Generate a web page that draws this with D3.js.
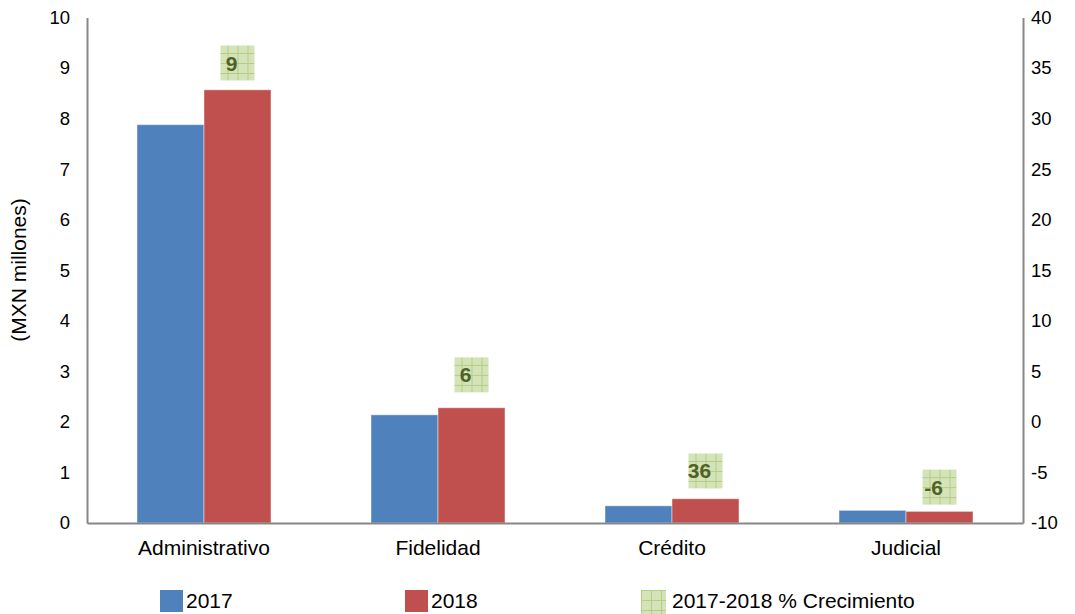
<!DOCTYPE html>
<html><head><meta charset="utf-8">
<script src="https://cdn.jsdelivr.net/npm/d3@7"></script>
<style>body{margin:0;background:#fff}svg{display:block;font-family:"Liberation Sans",Arial,sans-serif}</style>
</head><body>
<svg id="c" width="1075" height="614"></svg>
<script>
const categories = ["Administrativo","Fidelidad","Crédito","Judicial"];
const series2017 = [7.88, 2.14, 0.34, 0.25];
const series2018 = [8.57, 2.28, 0.48, 0.23];
const growth = [9, 6, 36, -6];
const growthPos = [9.1, 2.93, 1.03, 0.71];
const leftTicks = [0,1,2,3,4,5,6,7,8,9,10];
const rightTicks = [-10,-5,0,5,10,15,20,25,30,35,40];
const legendLabels = ["2017","2018","2017-2018 % Crecimiento"];

const svg = d3.select("#c");
const L=87, R=1023, T=17.5, B=523;
const x = d3.scaleBand().domain(categories).range([L,R]).padding(0);
const y = d3.scaleLinear().domain([0,10]).range([B,T]);
const y2 = d3.scaleLinear().domain([-10,40]).range([B,T]);
const barW = 67;
const sub = d3.scaleBand().domain(["2017","2018"]).range([0,barW*2]);

const defs = svg.append("defs");
const pat = defs.append("pattern").attr("id","grid").attr("patternUnits","userSpaceOnUse")
  .attr("width",10).attr("height",10);
pat.append("rect").attr("width",10).attr("height",10).attr("fill","#D5E3B8");
pat.append("path").attr("d","M0,0.5H10M0.5,0V10").attr("stroke","#B6CD86").attr("stroke-width",1);

// bars
const colors = {"2017":"#4F81BD","2018":"#C0504D"};
[["2017",series2017],["2018",series2018]].forEach(([k,vals])=>{
  svg.append("g").selectAll("rect").data(vals).join("rect")
    .attr("x",(d,i)=>x(categories[i])+x.bandwidth()/2-barW+sub(k))
    .attr("y",d=>y(d)).attr("width",sub.bandwidth()).attr("height",d=>B-y(d))
    .attr("fill",colors[k]).attr("stroke","rgba(255,255,255,0.45)").attr("stroke-width",1);
});

// axes
const fmt = d => String(d);
const axL = svg.append("g").attr("transform",`translate(${L},0)`)
  .call(d3.axisLeft(y).tickValues(leftTicks).tickSize(0).tickPadding(17).tickFormat(fmt));
const axR = svg.append("g").attr("transform",`translate(${R},0)`)
  .call(d3.axisRight(y2).tickValues(rightTicks).tickSize(0).tickPadding(8).tickFormat(fmt));
const axB = svg.append("g").attr("transform",`translate(0,${B})`)
  .call(d3.axisBottom(x).tickSize(0).tickPadding(17));
[axL,axR,axB].forEach(a=>{
  a.select(".domain").attr("stroke","#878787").attr("stroke-width",2);
  a.selectAll("text").attr("fill","#000").style("font-family","Liberation Sans, Arial, sans-serif");
});
axL.selectAll("text").style("font-size","18.5px");
axR.selectAll("text").style("font-size","18.5px");
axB.selectAll("text").style("font-size","21px");

svg.append("text").attr("transform","translate(26,270) rotate(-90)").attr("text-anchor","middle")
  .style("font-size","21px").text("(MXN millones)");

// growth markers
const mk = svg.append("g").selectAll("g").data(growth).join("g")
  .attr("transform",(d,i)=>`translate(${x(categories[i])+x.bandwidth()/2+barW/2},${y(growthPos[i])})`);
mk.append("rect").attr("x",-17).attr("y",-17.5).attr("width",34).attr("height",35).attr("fill","url(#grid)");
mk.append("text").attr("x",-6).attr("dy","0.36em").attr("text-anchor","middle")
  .style("font-size","21px").style("font-weight","bold").attr("fill","#4F6228").text(d=>d);

// legend
const legX = [160,405,641];
const lg = svg.append("g").selectAll("g").data(legendLabels).join("g")
  .attr("transform",(d,i)=>`translate(${legX[i]},590)`);
lg.append("rect").attr("width",(d,i)=>i==2?25:23).attr("height",(d,i)=>i==2?24:22)
  .attr("fill",(d,i)=>i==0?colors["2017"]:i==1?colors["2018"]:"url(#grid)");
lg.append("text").attr("x",(d,i)=>i==2?31:26).attr("y",18).style("font-size","21px").text(d=>d);
</script>
</body></html>
